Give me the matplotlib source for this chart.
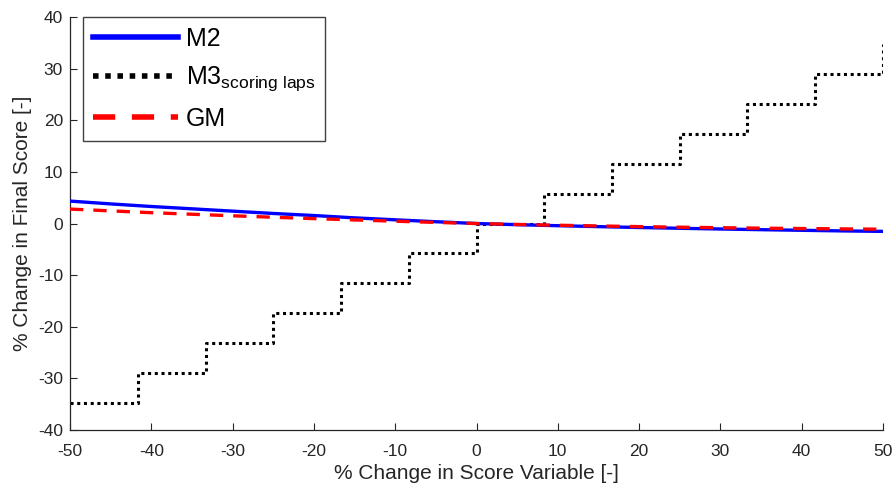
import matplotlib.pyplot as plt
import numpy as np

plt.rcParams['font.family'] = ['Liberation Sans', 'DejaVu Sans']
plt.rcParams['mathtext.fontset'] = 'custom'
plt.rcParams['mathtext.rm'] = 'Liberation Sans'
plt.rcParams['mathtext.it'] = 'Liberation Sans'
plt.rcParams['axes.unicode_minus'] = False

# Values
x_curve = [-50, -45, -40, -35, -30, -25, -20, -15, -10, -5, 0,
           5, 10, 15, 20, 25, 30, 35, 40, 45, 50]
m2_values = [4.35, 3.8, 3.3, 2.85, 2.4, 1.95, 1.55, 1.1, 0.72, 0.35, 0.0,
             -0.22, -0.42, -0.6, -0.77, -0.92, -1.06, -1.19, -1.31, -1.43, -1.52]
gm_values = [2.8, 2.45, 2.1, 1.8, 1.5, 1.22, 0.95, 0.7, 0.45, 0.22, 0.0,
             -0.18, -0.33, -0.47, -0.6, -0.71, -0.81, -0.9, -0.97, -1.04, -1.1]

m3_edges = [-50, -41.67, -33.33, -25, -16.67, -8.33, 0,
            8.33, 16.67, 25, 33.33, 41.67, 50]
m3_values = [-34.8, -29.0, -23.2, -17.4, -11.6, -5.8, 0.0,
             5.8, 11.6, 17.4, 23.2, 29.0, 34.8]

xticks = [-50, -40, -30, -20, -10, 0, 10, 20, 30, 40, 50]
yticks = [-40, -30, -20, -10, 0, 10, 20, 30, 40]

fig = plt.figure(figsize=(8.93, 4.87), dpi=100)
ax = fig.add_axes([0.0784, 0.117, 0.9104, 0.848])

ax.plot(x_curve, m2_values, color='#0000ff', lw=2.4, label='M2', zorder=3)
ax.step(m3_edges, m3_values, where='post', color='black', lw=2.2,
        linestyle=(0, (1, 1.2)), label=r'M3$_{\mathrm{scoring\ laps}}$', zorder=2)
ax.plot(x_curve, gm_values, color='#ff0000', lw=2.4, linestyle=(0, (4, 3)),
        label='GM', zorder=4)

ax.set_xlim(-50, 50)
ax.set_ylim(-40, 40)
ax.set_xticks(xticks)
ax.set_yticks(yticks)
ax.tick_params(direction='in', length=5, width=0.8, labelsize=12.5,
               colors='#262626', labelcolor='#262626', pad=5)
ax.tick_params(axis='x', pad=10)
for side in ['top', 'right']:
    ax.spines[side].set_visible(False)
for side in ['left', 'bottom']:
    ax.spines[side].set_color('#262626')
    ax.spines[side].set_linewidth(0.9)

ax.set_xlabel('% Change in Score Variable [-]', fontsize=15, color='#262626', labelpad=4)
ax.set_ylabel('% Change in Final Score [-]', fontsize=15, color='#262626', labelpad=4)

leg = ax.legend(loc='upper left', bbox_to_anchor=(0.016, 1.0), fontsize=18,
                handlelength=3.4, handletextpad=0.3, labelspacing=0.55,
                borderpad=0.4, borderaxespad=0.0, fancybox=False, framealpha=1)
leg.get_frame().set_edgecolor('#404040')
leg.get_frame().set_linewidth(1.0)
for line in leg.get_lines():
    line.set_linewidth(4)

fig.savefig('out.png', dpi=100)
